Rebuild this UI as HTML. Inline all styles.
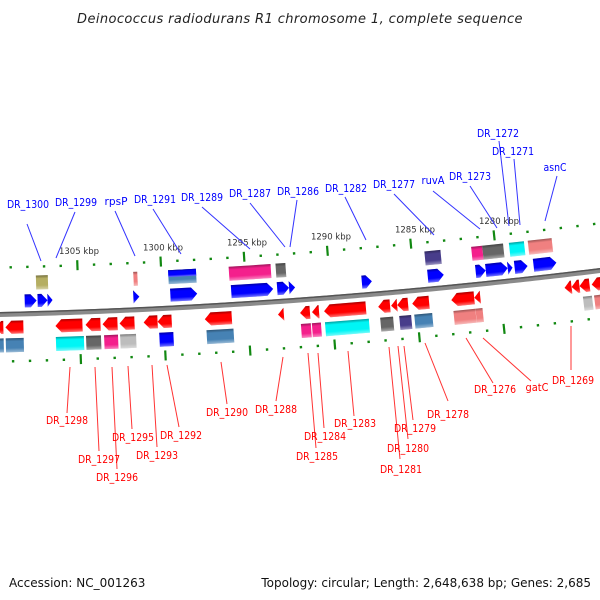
<!DOCTYPE html>
<html><head><meta charset="utf-8">
<style>
html,body{margin:0;padding:0;background:#fff;}
svg{display:block;font-family:"DejaVu Sans","Liberation Sans",sans-serif;}
</style></head>
<body>
<svg id="chart" width="600" height="600" viewBox="0 0 600 600">
<defs>
<linearGradient id="shade" x1="0" y1="0" x2="0" y2="1">
<stop offset="0" stop-color="#000" stop-opacity="0.35"/>
<stop offset="0.22" stop-color="#000" stop-opacity="0.0"/>
<stop offset="0.7" stop-color="#fff" stop-opacity="0.0"/>
<stop offset="1" stop-color="#fff" stop-opacity="0.45"/>
</linearGradient>
</defs>
<text x="300" y="23" text-anchor="middle" font-size="13" font-style="italic" fill="#222" letter-spacing="0.4">Deinococcus radiodurans R1 chromosome 1, complete sequence</text>
<g id="ticks"></g>
<g id="backbone"></g>
<g id="genes"></g>
<g class="lbl" fill="#00f" font-size="10.5" stroke-width="1">
<g stroke="#33f">
<line x1="27" y1="224" x2="41" y2="261"/><line x1="75" y1="212" x2="56" y2="258"/>
<line x1="115" y1="211" x2="135" y2="256"/><line x1="153" y1="209" x2="181" y2="254"/>
<line x1="202" y1="207" x2="250" y2="249"/><line x1="250" y1="203" x2="285" y2="247"/>
<line x1="297" y1="200" x2="290" y2="247"/><line x1="345" y1="197" x2="366" y2="240"/>
<line x1="394" y1="194" x2="434" y2="235"/><line x1="433" y1="191" x2="480" y2="229"/>
<line x1="470" y1="186" x2="497" y2="228"/><line x1="514" y1="159" x2="520" y2="225"/>
<line x1="499" y1="141" x2="509" y2="226"/><line x1="557" y1="176" x2="545" y2="221"/>
</g>
<text x="28" y="208" text-anchor="middle">DR_1300</text>
<text x="76" y="206" text-anchor="middle">DR_1299</text>
<text x="116" y="205" text-anchor="middle">rpsP</text>
<text x="155" y="203" text-anchor="middle">DR_1291</text>
<text x="202" y="201" text-anchor="middle">DR_1289</text>
<text x="250" y="197" text-anchor="middle">DR_1287</text>
<text x="298" y="195" text-anchor="middle">DR_1286</text>
<text x="346" y="192" text-anchor="middle">DR_1282</text>
<text x="394" y="188" text-anchor="middle">DR_1277</text>
<text x="433" y="184" text-anchor="middle">ruvA</text>
<text x="470" y="180" text-anchor="middle">DR_1273</text>
<text x="513" y="155" text-anchor="middle">DR_1271</text>
<text x="498" y="137" text-anchor="middle">DR_1272</text>
<text x="555" y="171" text-anchor="middle">asnC</text>
</g>
<g class="lbl" fill="#f00" font-size="10.5" stroke-width="1">
<g stroke="#f33">
<line x1="70" y1="367" x2="67" y2="413"/><line x1="95" y1="367" x2="99" y2="451"/>
<line x1="112" y1="367" x2="117" y2="469"/><line x1="128" y1="366" x2="132" y2="429"/>
<line x1="152" y1="365" x2="157" y2="447"/><line x1="167" y1="365" x2="179" y2="427"/>
<line x1="221" y1="362" x2="227" y2="404"/><line x1="283" y1="357" x2="276" y2="401"/>
<line x1="318" y1="353" x2="324" y2="428"/><line x1="308" y1="353" x2="316" y2="448"/>
<line x1="348" y1="351" x2="354" y2="416"/><line x1="404" y1="346" x2="413" y2="420"/>
<line x1="398" y1="346" x2="408" y2="439"/><line x1="389" y1="347" x2="400" y2="459"/>
<line x1="425" y1="343" x2="448" y2="401"/><line x1="466" y1="338" x2="493" y2="383"/>
<line x1="483" y1="338" x2="531" y2="381"/><line x1="571" y1="326" x2="571" y2="370"/>
</g>
<text x="67" y="424" text-anchor="middle">DR_1298</text>
<text x="99" y="463" text-anchor="middle">DR_1297</text>
<text x="117" y="481" text-anchor="middle">DR_1296</text>
<text x="133" y="441" text-anchor="middle">DR_1295</text>
<text x="157" y="459" text-anchor="middle">DR_1293</text>
<text x="181" y="439" text-anchor="middle">DR_1292</text>
<text x="227" y="416" text-anchor="middle">DR_1290</text>
<text x="276" y="413" text-anchor="middle">DR_1288</text>
<text x="325" y="440" text-anchor="middle">DR_1284</text>
<text x="317" y="460" text-anchor="middle">DR_1285</text>
<text x="355" y="427" text-anchor="middle">DR_1283</text>
<text x="415" y="432" text-anchor="middle">DR_1279</text>
<text x="408" y="452" text-anchor="middle">DR_1280</text>
<text x="401" y="473" text-anchor="middle">DR_1281</text>
<text x="448" y="418" text-anchor="middle">DR_1278</text>
<text x="495" y="393" text-anchor="middle">DR_1276</text>
<text x="537" y="391" text-anchor="middle">gatC</text>
<text x="573" y="384" text-anchor="middle">DR_1269</text>
</g>
<text x="9" y="587" font-size="12" fill="#111">Accession: NC_001263</text>
<text x="591" y="587" font-size="12" fill="#111" text-anchor="end">Topology: circular; Length: 2,648,638 bp; Genes: 2,685</text>
</svg>
<script>
// ---- data (kbp coordinates) ----
const fwdGeneStart = [1308.21,1307.44,1306.85,1301.73,1299.52,1295.89,1293.15,1292.44,1288.10,1284.17,1281.31,1280.71,1279.40,1278.99,1277.86];
const fwdGeneEnd   = [1307.50,1306.85,1306.55,1301.37,1297.92,1293.39,1292.44,1292.08,1287.50,1283.21,1280.71,1279.40,1279.11,1278.21,1276.49];
const revGeneStart = [1310.00,1309.40,1306.43,1304.64,1303.63,1302.62,1301.19,1300.36,1297.56,1293.21,1291.90,1291.19,1290.48,1287.26,1286.49,1286.13,1285.24,1282.92,1281.55,1276.19,1275.77,1275.30,1274.58];
const revGeneEnd   = [1309.52,1308.33,1304.82,1303.75,1302.74,1301.73,1300.36,1299.52,1295.95,1292.86,1291.31,1290.77,1287.98,1286.55,1286.13,1285.48,1284.23,1281.55,1281.19,1275.77,1275.30,1274.70,1273.69];
const fwdFeatStart = [1307.50,1301.67,1299.58,1295.95,1293.15,1284.23,1281.43,1280.77,1279.17,1278.04];
const fwdFeatEnd   = [1306.79,1301.43,1297.92,1293.45,1292.56,1283.27,1280.77,1279.52,1278.27,1276.61];
const fwdFeatColor = ["#b5ae62","#f08080","split","#f4208c","#666666","#483d8b","#f4208c","#666666","#00f5f5","#f08080"];
const revFeatStart = [1309.88,1309.40,1306.43,1304.64,1303.57,1302.62,1300.30,1297.50,1291.90,1291.25,1290.48,1287.20,1286.07,1285.18,1282.86,1281.55,1275.18,1274.52];
const revFeatEnd   = [1309.52,1308.33,1304.76,1303.75,1302.74,1301.67,1299.46,1295.89,1291.31,1290.71,1287.86,1286.43,1285.36,1284.11,1281.55,1281.13,1274.64,1273.99];
const revFeatColor = ["#4682b4","#4682b4","#00f5f5","#666666","#f4208c","#bdbdbd","#0000ff","#4682b4","#f4208c","#f4208c","#00f5f5","#666666","#483d8b","#4682b4","#f08080","#f08080","#bdbdbd","#f08080"];
const majorTicks = [1305,1300,1295,1290,1285,1280];
const majorTickLabels = ["1305 kbp","1300 kbp","1295 kbp","1290 kbp","1285 kbp","1280 kbp"];

// ---- axis functions ----
const NS = "http://www.w3.org/2000/svg";
function xOf(kbp){ return 499 + (1280 - kbp) * 16.8; }
function yBack(x){ return 314.5 - 0.0233 * x - 0.0000833 * x * x; }
function angOf(x){ return Math.atan(-(0.0233 + 2 * 0.0000833 * x)) * 180 / Math.PI; }
function mk(tag, attrs, parent){ const e = document.createElementNS(NS, tag); for (const k in attrs) e.setAttribute(k, attrs[k]); parent.appendChild(e); return e; }

// condense gene labels to match reference widths
document.querySelectorAll('g.lbl > text').forEach(function(t){
  const n = t.textContent.length;
  t.setAttribute('textLength', n >= 7 ? 42 : 23);
  t.setAttribute('lengthAdjust', 'spacingAndGlyphs');
});

const gTicks = document.getElementById('ticks');
const gBack = document.getElementById('backbone');
const gGenes = document.getElementById('genes');

let d = "";
for (let x = -5; x <= 605; x += 5) d += (d ? "L" : "M") + x + "," + yBack(x).toFixed(2);
let bb1 = mk('path', {d: d, stroke: "#8a8a8a", "stroke-width": 5, fill: "none"}, gBack);


let bb2 = mk('path', {d: d, stroke: "#555", "stroke-width": 1.5, fill: "none", transform: "translate(0,-1.8)"}, gBack);



for (let k = 1273; k <= 1310; k++) {
  const x = xOf(k);
  if (x < -2 || x > 602) continue;
  const major = majorTicks.indexOf(k) >= 0;
  [-47, 47].forEach(function(off){
    const g = mk('g', {transform: "translate(" + x.toFixed(2) + "," + (yBack(x)).toFixed(2) + ") rotate(" + angOf(x).toFixed(2) + ")"}, gTicks);
    const t = major ? mk('rect', {x: -1, y: off - 5, width: 2.2, height: 10, fill: "#118811"}, g)
                    : mk('rect', {x: -1.1, y: off - 1.1, width: 2.4, height: 2.4, fill: "#118811"}, g);
    
    
  });
}
majorTicks.forEach(function(k, i){
  const x = xOf(k);
  const t = mk('text', {x: x.toFixed(1), y: (yBack(x) - 58).toFixed(1), "text-anchor": "middle", "font-size": 8.5, fill: "#333"}, gTicks);
  t.textContent = majorTickLabels[i];
  
  
});

function place(cx){ return "translate(" + cx.toFixed(2) + "," + yBack(cx).toFixed(2) + ") rotate(" + angOf(cx).toFixed(2) + ")"; }
function shaded(g, tag, attrs, fill){
  const a = Object.assign({}, attrs); a.fill = fill; mk(tag, a, g);
  const b = Object.assign({}, attrs); b.fill = "url(#shade)"; mk(tag, b, g);
}
function arrow(s, e, fwd, off, color, name){
  const x1 = xOf(s), x2 = xOf(e);
  const cx = (x1 + x2) / 2, w = Math.abs(x2 - x1), h = 13, hd = Math.min(6, w);
  const g = mk('g', {transform: place(cx)}, gGenes);
  
  
  let pts;
  const L = -w / 2, R = w / 2, t = off - h / 2, b = off + h / 2;
  if (fwd) pts = [[L,t],[R-hd,t],[R,off],[R-hd,b],[L,b]];
  else pts = [[R,t],[L+hd,t],[L,off],[L+hd,b],[R,b]];
  shaded(g, 'polygon', {points: pts.map(p => p[0].toFixed(2) + "," + p[1].toFixed(2)).join(" ")}, color);
}
function box(s, e, off, color, name){
  const x1 = xOf(s), x2 = xOf(e);
  const cx = (x1 + x2) / 2, w = Math.abs(x2 - x1), h = 14;
  const g = mk('g', {transform: place(cx)}, gGenes);
  
  
  if (color === "split") {
    shaded(g, 'rect', {x: -w/2, y: off - h/2, width: w, height: h}, "#4682b4");
    shaded(g, 'rect', {x: -w/2, y: off - h/2, width: w, height: h/2}, "#0000ff");
  } else {
    shaded(g, 'rect', {x: -w/2, y: off - h/2, width: w, height: h}, color);
  }
}
fwdFeatStart.forEach((s, i) => box(s, fwdFeatEnd[i], -31, fwdFeatColor[i], 'forward-feature'));
revFeatStart.forEach((s, i) => box(s, revFeatEnd[i], 31, revFeatColor[i], 'reverse-feature'));
fwdGeneStart.forEach((s, i) => arrow(s, fwdGeneEnd[i], true, -13, "#0000ff", 'forward-gene'));
revGeneStart.forEach((s, i) => arrow(s, revGeneEnd[i], false, 13, "#ff0000", 'reverse-gene'));
</script>
</body></html>
